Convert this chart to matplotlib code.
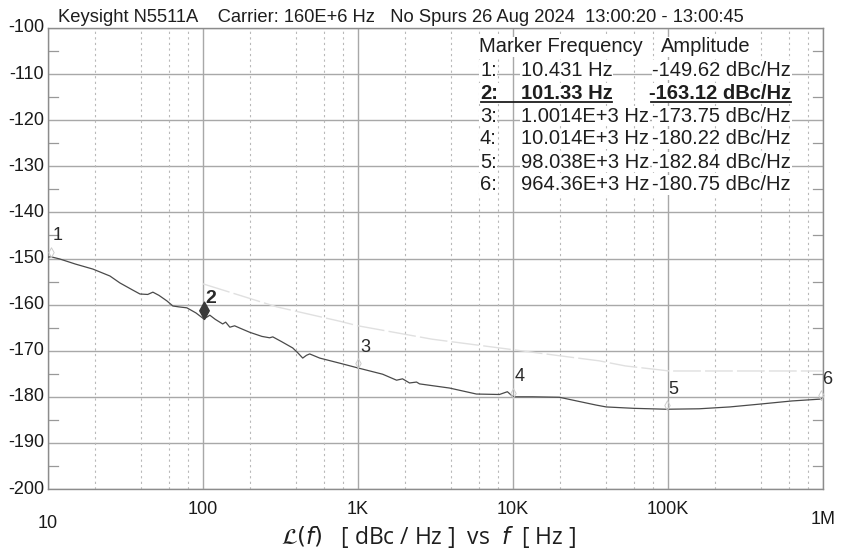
import matplotlib
matplotlib.use("Agg")
import matplotlib.pyplot as plt
import numpy as np
from matplotlib.path import Path
from matplotlib.transforms import blended_transform_factory

# ---------------- data ----------------
trace_freq = [10, 10.431, 11.9, 15, 19.5, 25.1, 29.1, 35, 39.2, 44, 47.5, 52, 58.5,
              63.9, 70, 78.7, 90, 101.33, 110.7, 120, 134, 140, 149, 160, 173, 200,
              240, 269, 282, 320, 379, 410, 440, 465, 488, 566, 761, 1001.4, 1442,
              1774, 1938, 2150, 2386, 2495, 3894, 5808, 8170, 9200, 10014, 13340,
              19900, 24150, 34450, 40000, 60000, 98038, 158900, 250000, 387000,
              631000, 964360, 1000000]
trace_db = [-149.7, -149.62, -150.1, -151.2, -152.3, -153.8, -155.3, -156.8, -157.7,
            -157.8, -157.3, -158.0, -159.2, -160.3, -160.5, -160.7, -161.8, -163.12,
            -162.3, -163.2, -164.2, -163.8, -164.9, -164.6, -165.1, -166.0, -166.9,
            -167.2, -167.0, -168.0, -169.4, -170.5, -171.6, -171.0, -170.7, -171.6,
            -172.7, -173.75, -175.1, -176.4, -176.1, -177.0, -176.8, -177.2, -178.1,
            -179.4, -179.5, -178.9, -180.0, -180.0, -180.1, -180.7, -181.8, -182.2,
            -182.5, -182.7, -182.6, -182.2, -181.6, -180.9, -180.5, -180.3]

faint_freq = [100, 300, 761, 1000, 3000, 8170, 20000, 36000, 53000, 102000, 1000000]
faint_db = [-155.5, -160.5, -163.6, -164.6, -167.5, -169.4, -171.1, -172.2, -173.3, -174.4, -174.4]

marker_ids = ["1", "2", "3", "4", "5", "6"]
marker_freq = [10.431, 101.33, 1001.4, 10014, 98038, 964360]
marker_db = [-149.62, -163.12, -173.75, -180.22, -182.84, -180.75]
marker_freq_txt = ["10.431 Hz", "101.33 Hz", "1.0014E+3 Hz", "10.014E+3 Hz",
                   "98.038E+3 Hz", "964.36E+3 Hz"]
marker_amp_txt = ["-149.62 dBc/Hz", "-163.12 dBc/Hz", "-173.75 dBc/Hz",
                  "-180.22 dBc/Hz", "-182.84 dBc/Hz", "-180.75 dBc/Hz"]
active_marker = 1

y_ticks = list(range(-100, -201, -10))
x_ticks = [10, 100, 1000, 10000, 100000, 1000000]
x_tick_labels = ["10", "100", "1K", "10K", "100K", "1M"]

title = "Keysight N5511A    Carrier: 160E+6 Hz   No Spurs 26 Aug 2024  13:00:20 - 13:00:45"

# ---------------- figure ----------------
W, H = 851, 555
plt.rcParams['font.family'] = ['Liberation Sans', 'DejaVu Sans']
fig = plt.figure(figsize=(W / 100, H / 100), dpi=100)
fig.patch.set_facecolor("white")

def fx(x):
    return x / W

def fy(y):
    return 1 - y / H

L, R, T, B = 48, 823, 28, 489
ax = fig.add_axes([fx(L), fy(B), (R - L) / W, (B - T) / H])
ax.set_xscale("log")
ax.set_xlim(10, 1e6)
ax.set_ylim(-200, -100)

grid_col = "#a8a8a8"
for s in ax.spines.values():
    s.set_color("#8c8c8c")
    s.set_linewidth(1.0)

# grid
for yv in y_ticks:
    ax.axhline(yv, color=grid_col, lw=1.0, zorder=1)
for xv in x_ticks:
    ax.axvline(xv, color=grid_col, lw=1.0, zorder=1)
for dec in [10, 100, 1000, 10000, 100000]:
    for m in [2, 4, 6, 8]:
        ax.axvline(dec * m, color="#b8b8b8", lw=0.8, ls=(0, (2, 3)), zorder=1)

ax.set_xticks([])
ax.set_yticks([])
ax.minorticks_off()

# inward minor ticks at 5 dB on both sides
tl = blended_transform_factory(ax.transAxes, ax.transData)
for yv in range(-105, -200, -10):
    ax.plot([0, 10 / (R - L)], [yv, yv], color="#999999", lw=0.9, transform=tl, zorder=1)
    ax.plot([1 - 10 / (R - L), 1], [yv, yv], color="#999999", lw=0.9, transform=tl, zorder=1)

# tick labels
for yv in y_ticks:
    ax.text(-4 / (R - L), yv, str(yv), transform=tl, ha="right", va="center",
            fontsize=13, color="#1a1a1a")
tb = blended_transform_factory(ax.transData, ax.transAxes)
x_label_y = [523, 510, 510, 510, 510, 519]
for xv, lab, yy in zip(x_ticks, x_tick_labels, x_label_y):
    ax.text(xv, (B - yy) / (B - T), lab, transform=tb, ha="center", va="center",
            fontsize=13, color="#1a1a1a", clip_on=False)

# traces
ax.plot(faint_freq, faint_db, color="#e0e0e0", lw=1.0, ls=(0, (20, 3)), zorder=2)
ax.plot(trace_freq, trace_db, color="#4a4a4a", lw=0.9, zorder=3)

# markers
tip = Path([(0, 0), (0.55, 1.0), (0, 2.0), (-0.55, 1.0), (0, 0)],
           [Path.MOVETO, Path.LINETO, Path.LINETO, Path.LINETO, Path.CLOSEPOLY])
for i, (mid, mf, md) in enumerate(zip(marker_ids, marker_freq, marker_db)):
    if i == active_marker:
        ax.plot(mf, md, marker=tip, ms=25, color="#3a3a3a", mec="#3a3a3a", zorder=5,
                clip_on=False)
    else:
        ax.plot(mf, md, marker=tip, ms=14, mfc="none", mec="#cccccc", mew=0.7,
                zorder=4, clip_on=False)
    ax.annotate(mid, (mf, md), xytext=(5, 15), textcoords="offset points",
                ha="center", va="center", fontsize=14 if i == active_marker else 13,
                color="#2a2a2a",
                fontweight="bold" if i == active_marker else "normal",
                annotation_clip=False, zorder=6)

# marker table
tcol = "#1e1e1e"
bb = dict(facecolor="white", edgecolor="none", pad=0.5)
fs = 14.5
fig.text(fx(479), fy(47), "Marker Frequency", fontsize=fs, ha="left", va="center",
         color=tcol, bbox=bb)
fig.text(fx(661), fy(47), "Amplitude", fontsize=fs, ha="left", va="center",
         color=tcol, bbox=bb)
for i in range(len(marker_ids)):
    yy = 70 + 23 * i
    wt = "bold" if i == active_marker else "normal"
    fig.text(fx(480), fy(yy), marker_ids[i] + ":", fontsize=fs, ha="left",
             va="center", color=tcol, fontweight=wt, bbox=bb)
    fig.text(fx(521), fy(yy), marker_freq_txt[i], fontsize=fs, ha="left",
             va="center", color=tcol, fontweight=wt, bbox=bb)
    fig.text(fx(791), fy(yy), marker_amp_txt[i], fontsize=fs, ha="right",
             va="center", color=tcol, fontweight=wt, bbox=bb)
    if i == active_marker:
        for x0, x1 in [(481, 612), (651, 791)]:
            ln = plt.Line2D([fx(x0), fx(x1)], [fy(yy + 9), fy(yy + 9)],
                            transform=fig.transFigure, color=tcol, lw=1.3, zorder=20)
            fig.add_artist(ln)

# title
fig.text(fx(58), fy(17), title, fontsize=13.2, ha="left", va="center", color=tcol)

# x label
fig.text(fx(428), fy(537),
         r"$\mathcal{L}(f)$   [ dBc / Hz ]  vs  $\mathit{f}$  [ Hz ]",
         fontsize=16.5, ha="center", va="center", color=tcol, family="Open Sans")

fig.savefig("out.png", dpi=100, facecolor="white")
